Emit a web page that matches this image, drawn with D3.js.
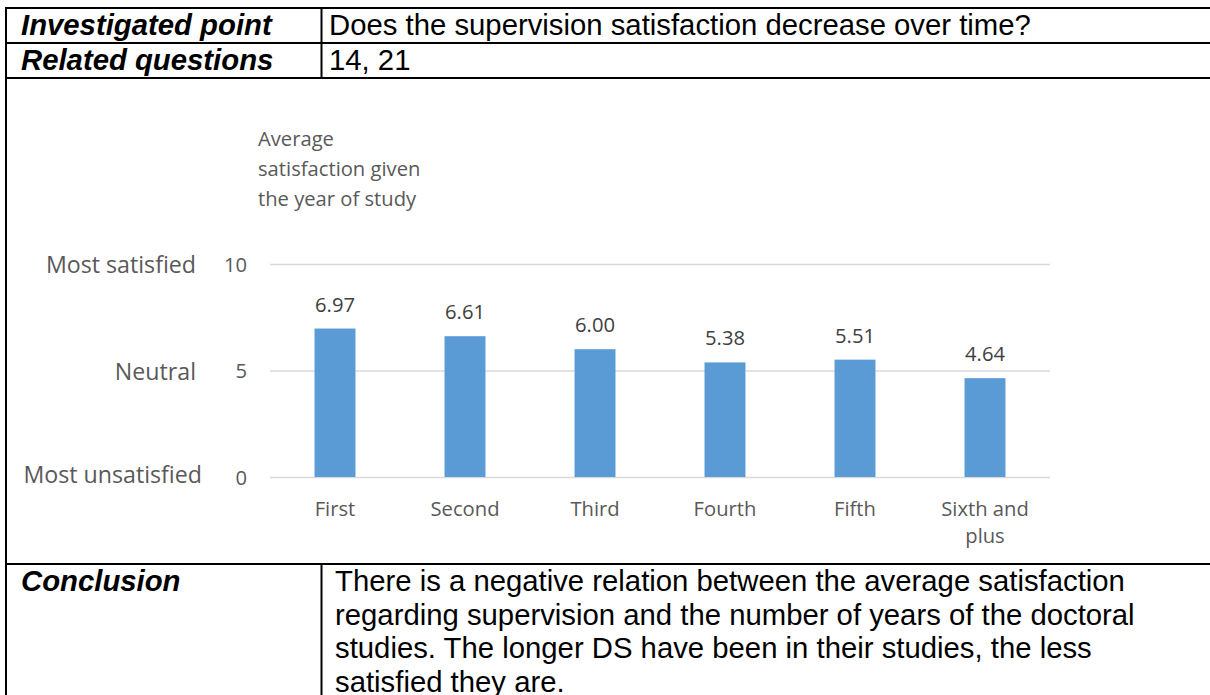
<!DOCTYPE html>
<html>
<head>
<meta charset="utf-8">
<script src="https://cdn.jsdelivr.net/npm/d3@7"></script>
<style>
  html, body { margin: 0; padding: 0; background: #fff; }
  svg { display: block; }
</style>
</head>
<body>
<svg id="chart" width="1210" height="695"></svg>
<script>
// ---- data ----
const categories = ["First", "Second", "Third", "Fourth", "Fifth", "Sixth and plus"];
const averageSatisfaction = [6.97, 6.61, 6.00, 5.38, 5.51, 4.64];
const yTickValues = [0, 5, 10];
const scaleLabels = [
  { value: 10, text: "Most satisfied" },
  { value: 5, text: "Neutral" },
  { value: 0, text: "Most unsatisfied" }
];
const chartTitleLines = ["Average", "satisfaction given", "the year of study"];
const tableRows = [
  { label: "Investigated point", text: "Does the supervision satisfaction decrease over time?" },
  { label: "Related questions", text: "14, 21" }
];
const conclusionLabel = "Conclusion";
const conclusionLines = [
  "There is a negative relation between the average satisfaction",
  "regarding supervision and the number of years of the doctoral",
  "studies. The longer DS have been in their studies, the less",
  "satisfied they are."
];

// ---- setup ----
const svg = d3.select("#chart");
const W = 1210, H = 695;
svg.append("rect").attr("width", W).attr("height", H).attr("fill", "#fff");

const tableFont = "'Liberation Sans', Arial, sans-serif";
const chartFont = "'Open Sans', 'Noto Sans', sans-serif";
const textGrey = "#595959";

// ---- table frame ----
const frame = svg.append("g").attr("stroke", "#000").attr("stroke-width", 2).attr("fill", "none");
const leftX = 6, divX = 321.5;
const lineYs = [8, 43, 78, 564];
lineYs.forEach(y => frame.append("line").attr("x1", leftX - 1).attr("x2", W).attr("y1", y).attr("y2", y));
frame.append("line").attr("x1", leftX).attr("x2", leftX).attr("y1", 7).attr("y2", H);
frame.append("line").attr("x1", divX).attr("x2", divX).attr("y1", 8).attr("y2", 78);
frame.append("line").attr("x1", divX).attr("x2", divX).attr("y1", 564).attr("y2", H);

// ---- table text ----
const tt = svg.append("g").attr("font-family", tableFont).attr("font-size", 29.3).attr("fill", "#000");
tableRows.forEach((r, i) => {
  const base = lineYs[i] + 27;
  tt.append("text").attr("x", 21).attr("y", base)
    .attr("font-weight", "bold").attr("font-style", "italic").text(r.label);
  tt.append("text").attr("x", 329).attr("y", base).text(r.text);
});
tt.append("text").attr("x", 21).attr("y", 591)
  .attr("font-weight", "bold").attr("font-style", "italic").text(conclusionLabel);
conclusionLines.forEach((l, i) => {
  tt.append("text").attr("x", 335).attr("y", 591 + i * 33.7).text(l);
});

// ---- chart ----
const plot = { left: 270, right: 1050, top: 264, bottom: 477 };
const x = d3.scaleBand().domain(categories).range([plot.left, plot.right])
  .paddingInner(0.685).paddingOuter(0.3425);
const y = d3.scaleLinear().domain([0, 10]).range([plot.bottom, plot.top]);

// y axis with gridlines
const yAxis = svg.append("g").attr("transform", `translate(${plot.left},0)`)
  .call(d3.axisLeft(y).tickValues(yTickValues).tickSizeInner(-(plot.right - plot.left)).tickSizeOuter(0).tickPadding(23));
yAxis.select(".domain").remove();
yAxis.selectAll(".tick line").attr("stroke", "#d9d9d9").attr("stroke-width", 1.4);
yAxis.selectAll(".tick text").attr("font-family", chartFont).attr("font-size", 20.2)
  .attr("fill", textGrey).attr("dy", "0.36em");

// bars
svg.append("g").selectAll("rect").data(averageSatisfaction).join("rect")
  .attr("x", (d, i) => x(categories[i]))
  .attr("width", x.bandwidth())
  .attr("y", d => y(d))
  .attr("height", d => y(0) - y(d))
  .attr("fill", "#5b9bd5");

// data labels
svg.append("g").selectAll("text").data(averageSatisfaction).join("text")
  .attr("x", (d, i) => x(categories[i]) + x.bandwidth() / 2)
  .attr("y", d => y(d) - 17)
  .attr("text-anchor", "middle")
  .attr("font-family", chartFont).attr("font-size", 20.2).attr("fill", "#404040")
  .text(d => d.toFixed(2));

// x axis labels
const xAxis = svg.append("g").attr("transform", `translate(0,${plot.bottom})`)
  .call(d3.axisBottom(x).tickSize(0).tickPadding(0));
xAxis.select(".domain").remove();
xAxis.selectAll(".tick text")
  .attr("font-family", chartFont).attr("font-size", 20.2).attr("fill", textGrey)
  .attr("dy", null).attr("y", 39)
  .each(function(d) {
    const t = d3.select(this);
    const words = d.split(" ");
    if (words.length > 2) {
      t.text(null);
      t.append("tspan").attr("x", 0).attr("y", 39).text(words.slice(0, -1).join(" "));
      t.append("tspan").attr("x", 0).attr("y", 39 + 27).text(words[words.length - 1]);
    }
  });

// scale meaning labels
const sl = svg.append("g").attr("font-family", chartFont).attr("font-size", 23.2).attr("fill", textGrey)
  .attr("text-anchor", "end");
scaleLabels.forEach(s => {
  sl.append("text").attr("x", s.value === 0 ? 202 : 196).attr("y", y(s.value) + (s.value === 0 ? 6 : 9))
    .text(s.text);
});

// chart title
const ct = svg.append("g").attr("font-family", chartFont).attr("font-size", 20.2).attr("fill", textGrey);
chartTitleLines.forEach((l, i) => {
  ct.append("text").attr("x", 258).attr("y", 146 + i * 30).text(l);
});
</script>
</body>
</html>
